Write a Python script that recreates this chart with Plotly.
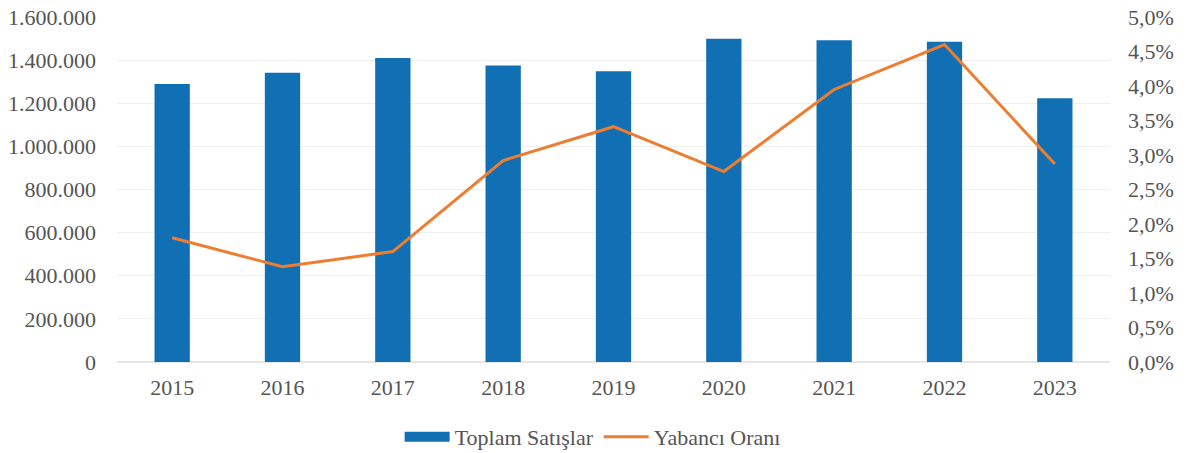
import plotly.graph_objects as go

years = ["2015", "2016", "2017", "2018", "2019", "2020", "2021", "2022", "2023"]
total_sales = [1289320, 1341453, 1409314, 1375398, 1348729, 1499316, 1491856, 1485162, 1223498]
foreign_ratio = [1.80, 1.38, 1.60, 2.92, 3.41, 2.76, 3.95, 4.60, 2.87]

left_ticks = [0, 200000, 400000, 600000, 800000, 1000000, 1200000, 1400000, 1600000]
left_labels = ["0", "200.000", "400.000", "600.000", "800.000", "1.000.000", "1.200.000", "1.400.000", "1.600.000"]
right_ticks = [0, 0.5, 1, 1.5, 2, 2.5, 3, 3.5, 4, 4.5, 5]
right_labels = ["0,0%", "0,5%", "1,0%", "1,5%", "2,0%", "2,5%", "3,0%", "3,5%", "4,0%", "4,5%", "5,0%"]

font_family = "Liberation Serif"
gray = "#555555"
blue = "#1170b3"
orange = "#ed7d31"

fig = go.Figure()
fig.add_trace(go.Bar(x=years, y=total_sales, name="Toplam Satışlar", showlegend=False,
                     marker=dict(color=blue, line=dict(width=0)), yaxis="y"))
# legend entry drawn as a wide rectangle like the reference
fig.add_trace(go.Scatter(x=[None], y=[None], name="Toplam Satışlar", mode="lines",
                         line=dict(color=blue, width=11), yaxis="y", hoverinfo="skip"))
fig.add_trace(go.Scatter(x=years, y=foreign_ratio, name="Yabancı Oranı", mode="lines",
                         line=dict(color=orange, width=3), yaxis="y2"))

fig.update_layout(
    width=1188, height=453,
    margin=dict(l=117, r=78, t=17, b=91, autoexpand=False),
    paper_bgcolor="white", plot_bgcolor="white",
    font=dict(family=font_family, size=22, color=gray),
    bargap=0.68,
    showlegend=True,
    legend=dict(orientation="h", x=0.479, xanchor="center", y=-0.217, yanchor="middle",
                font=dict(size=22, color=gray), itemwidth=45, tracegroupgap=0),
    xaxis=dict(showgrid=False, showline=False, ticks="", automargin=False,
               ticklabelstandoff=10, tickfont=dict(size=22, color=gray)),
    yaxis=dict(range=[0, 1600000], tickvals=left_ticks, ticktext=left_labels,
               showgrid=True, gridcolor="#efefef", gridwidth=1, zeroline=True,
               zerolinecolor="#e6e6e6", showline=False, ticks="", automargin=False,
               ticklabelstandoff=20, tickfont=dict(size=22, color=gray)),
    yaxis2=dict(range=[0, 5], tickvals=right_ticks, ticktext=right_labels, overlaying="y",
                side="right", showgrid=False, zeroline=False, showline=False, automargin=False,
                ticklabelstandoff=17, tickfont=dict(size=22, color=gray)),
)

fig.write_html("out.html", config={"displayModeBar": False},
               post_script="document.body.style.margin='0';document.body.style.overflow='hidden';")
